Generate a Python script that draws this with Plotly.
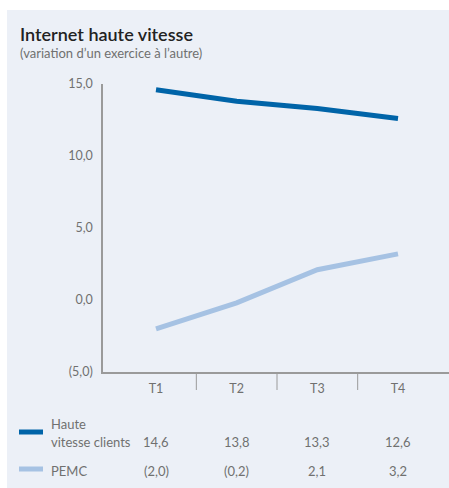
import plotly.graph_objects as go

categories = ["T1", "T2", "T3", "T4"]
haute_vitesse = [14.6, 13.8, 13.3, 12.6]
pemc = [-2.0, -0.2, 2.1, 3.2]
haute_labels = ["14,6", "13,8", "13,3", "12,6"]
pemc_labels = ["(2,0)", "(0,2)", "2,1", "3,2"]
y_tickvals = [-5, 0, 5, 10, 15]
y_ticktext = ["(5,0)", "0,0", "5,0", "10,0", "15,0"]

W, H = 449, 488
L, R, T, B = 103, 0, 84, 116
pw, ph = W - L - R, H - T - B

def px(xpix):
    return (xpix - L) / pw

def py(ypix):
    return (H - B - ypix) / ph

DARK = "#0064A8"
LIGHT = "#A6C2E3"
PANEL = "#ECF0F7"
FONT = "Lato"
GRAY = "#707070"

xs = list(range(len(categories)))

fig = go.Figure()
fig.add_trace(go.Scatter(x=xs, y=haute_vitesse, mode="lines",
                         line=dict(color=DARK, width=5), name="Haute vitesse clients"))
fig.add_trace(go.Scatter(x=xs, y=pemc, mode="lines",
                         line=dict(color=LIGHT, width=5), name="PEMC"))

shapes = []
# white margins outside panel
shapes.append(dict(type="rect", xref="paper", yref="paper", x0=px(0), x1=px(W), y0=py(10), y1=py(0),
                   fillcolor="white", line=dict(width=0), layer="below"))
shapes.append(dict(type="rect", xref="paper", yref="paper", x0=px(0), x1=px(7), y0=py(H), y1=py(0),
                   fillcolor="white", line=dict(width=0), layer="below"))
# category dividers below axis
for i in range(len(categories) - 1):
    shapes.append(dict(type="line", xref="x", yref="paper", x0=i + 0.5, x1=i + 0.5,
                       y0=0, y1=py(390), line=dict(color="#9a9a9a", width=1)))
# legend swatches
shapes.append(dict(type="line", xref="paper", yref="paper", x0=px(19), x1=px(43), y0=py(432), y1=py(432),
                   line=dict(color=DARK, width=5)))
shapes.append(dict(type="line", xref="paper", yref="paper", x0=px(19), x1=px(43), y0=py(469), y1=py(469),
                   line=dict(color=LIGHT, width=5)))

ann = []
ann.append(dict(text="Internet haute vitesse", xref="paper", yref="paper", x=px(18), y=py(34),
                xanchor="left", yanchor="middle", showarrow=False,
                font=dict(family=FONT, size=18, color="#222222", weight=600)))
ann.append(dict(text="(variation d’un exercice à l’autre)", xref="paper", yref="paper", x=px(18), y=py(53),
                xanchor="left", yanchor="middle", showarrow=False,
                font=dict(family=FONT, size=13, color=GRAY)))
tf = dict(family=FONT, size=13, color=GRAY)
ann.append(dict(text="Haute", xref="paper", yref="paper", x=px(49), y=py(424),
                xanchor="left", yanchor="middle", showarrow=False, font=tf))
ann.append(dict(text="vitesse clients", xref="paper", yref="paper", x=px(49), y=py(442),
                xanchor="left", yanchor="middle", showarrow=False, font=tf))
ann.append(dict(text="PEMC", xref="paper", yref="paper", x=px(49), y=py(471),
                xanchor="left", yanchor="middle", showarrow=False, font=tf))
for i in xs:
    ann.append(dict(text=haute_labels[i], xref="x", yref="paper", x=i, y=py(442),
                    xanchor="center", yanchor="middle", showarrow=False, font=tf))
    ann.append(dict(text=pemc_labels[i], xref="x", yref="paper", x=i, y=py(471),
                    xanchor="center", yanchor="middle", showarrow=False, font=tf))

x0 = -53 / 80.67
x1 = (W - R - L) / 80.67 + x0

fig.update_layout(
    width=W, height=H,
    margin=dict(l=L, r=R, t=T, b=B, pad=0),
    paper_bgcolor=PANEL, plot_bgcolor=PANEL,
    showlegend=False,
    shapes=shapes, annotations=ann,
    xaxis=dict(range=[x0, x1], tickvals=xs, ticktext=categories, showgrid=False, zeroline=False,
               showline=True, linecolor="#9a9a9a", linewidth=1.5, ticks="",
               tickfont=dict(family=FONT, size=12.5, color=GRAY), ticklabelstandoff=4),
    yaxis=dict(range=[-5, 15], tickvals=y_tickvals, ticktext=y_ticktext, showgrid=False, zeroline=False,
               showline=True, linecolor="#9a9a9a", linewidth=1.5, ticks="",
               tickfont=dict(family=FONT, size=12.5, color=GRAY), ticklabelstandoff=6),
)

fig.write_html("out.html", config={"displayModeBar": False},
               post_script="document.body.style.margin='0';document.body.style.overflow='hidden';")
